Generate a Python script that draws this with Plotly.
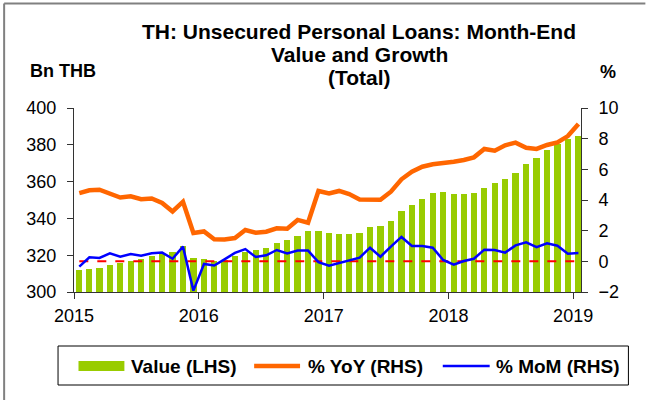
import plotly.graph_objects as go

months = [f"{y}-{m:02d}" for y in range(2015, 2019) for m in range(1, 13)] + ["2019-01"]

value_bn_thb = [312.0, 312.5, 313.2, 314.8, 315.7, 317.1, 318.0, 319.7, 320.7, 321.7, 324.9, 318.5,
                317.8, 316.9, 317.2, 319.5, 321.9, 322.8, 324.1, 326.6, 328.3, 330.4, 333.0, 333.0,
                332.0, 331.3, 331.3, 332.1, 335.2, 335.9, 338.8, 344.2, 347.3, 350.7, 353.8, 354.2,
                353.2, 353.1, 353.6, 356.5, 359.1, 361.2, 364.9, 369.6, 372.8, 377.2, 380.6, 383.0,
                385.0]

yoy_pct = [4.45, 4.63, 4.67, 4.43, 4.16, 4.24, 4.05, 4.10, 3.81, 3.25, 3.89, 1.85,
           1.95, 1.44, 1.42, 1.52, 2.04, 1.87, 1.93, 2.15, 2.13, 2.70, 2.52, 4.59,
           4.43, 4.59, 4.39, 4.04, 4.06, 4.02, 4.54, 5.35, 5.85, 6.17, 6.33, 6.39,
           6.50, 6.61, 6.78, 7.33, 7.22, 7.57, 7.74, 7.41, 7.33, 7.59, 7.76, 8.17,
           8.96]

mom_pct = [-0.35, 0.26, 0.22, 0.52, 0.30, 0.48, 0.37, 0.52, 0.57, 0.17, 0.96, -1.91,
           -0.17, -0.27, 0.13, 0.55, 0.80, 0.28, 0.39, 0.74, 0.52, 0.70, 0.70, -0.05,
           -0.29, -0.13, 0.04, 0.24, 0.89, 0.30, 0.96, 1.59, 1.00, 1.00, 0.89, 0.09,
           -0.22, 0.02, 0.17, 0.76, 0.74, 0.57, 1.04, 1.24, 0.93, 1.17, 1.02, 0.50,
           0.54]

zero_line = [0.0] * len(months)

year_ticks = ["2015-01-01", "2016-01-01", "2017-01-01", "2018-01-01", "2019-01-01"]
year_labels = ["2015", "2016", "2017", "2018", "2019"]
left_ticks = [300, 320, 340, 360, 380, 400]
right_ticks = [-2, 0, 2, 4, 6, 8, 10]

FONT = "Liberation Sans"
W, H = 646, 400
L, R, T, B = 73.5, 581.5, 108, 292


def px(x):
    return (x - L) / (R - L)


def py(y):
    return (B - y) / (B - T)


fig = go.Figure()

fig.add_trace(go.Bar(
    x=months, y=value_bn_thb, xperiod="M1", xperiodalignment="middle",
    width=0.6 * 30.44 * 86400000, marker=dict(color="#99CC00", line=dict(width=0)),
    name="Value (LHS)", showlegend=False))

fig.add_trace(go.Scatter(
    x=months, y=zero_line, xperiod="M1", xperiodalignment="middle", yaxis="y2",
    mode="lines", line=dict(color="#FF0000", width=2, dash="dash"), showlegend=False))

fig.add_trace(go.Scatter(
    x=months, y=yoy_pct, xperiod="M1", xperiodalignment="middle", yaxis="y2",
    mode="lines", line=dict(color="#FF6600", width=4.5), name="% YoY (RHS)", showlegend=False))

fig.add_trace(go.Scatter(
    x=months, y=mom_pct, xperiod="M1", xperiodalignment="middle", yaxis="y2",
    mode="lines", line=dict(color="#0000FF", width=2.5), name="% MoM (RHS)", showlegend=False))

axis_common = dict(showgrid=False, zeroline=False, showline=True, linecolor="#333333",
                   linewidth=1, ticks="outside", ticklen=6, tickcolor="#333333",
                   tickfont=dict(family=FONT, size=18, color="#000000"))

fig.update_layout(
    width=W, height=H,
    margin=dict(l=L, r=W - R, t=T, b=H - B, pad=0),
    paper_bgcolor="white", plot_bgcolor="white",
    bargap=0,
    xaxis=dict(type="date", range=["2015-01-01", "2019-01-24"],
               tickvals=year_ticks, ticktext=year_labels,
               ticklabelstandoff=1, **axis_common),
    yaxis=dict(range=[300, 400], tickvals=left_ticks, ticklabelstandoff=7, **axis_common),
    yaxis2=dict(range=[-2, 10], tickvals=right_ticks, overlaying="y", side="right",
                ticklabelstandoff=7, **axis_common),
)

# Title and axis titles
title_lines = ["TH: Unsecured Personal Loans: Month-End", "Value and Growth", "(Total)"]
title_y = [32, 55, 77]
for txt, yy in zip(title_lines, title_y):
    fig.add_annotation(text=f"<b>{txt}</b>", x=px(359.5), y=py(yy), xref="paper", yref="paper",
                       xanchor="center", yanchor="middle", showarrow=False,
                       font=dict(family=FONT, size=21, color="#000000"))
fig.add_annotation(text="<b>Bn THB</b>", x=px(27), y=py(71), xref="paper", yref="paper",
                   xanchor="left", yanchor="middle", showarrow=False,
                   font=dict(family=FONT, size=18, color="#000000"))
fig.add_annotation(text="<b>%</b>", x=px(608.5), y=py(72), xref="paper", yref="paper",
                   xanchor="center", yanchor="middle", showarrow=False,
                   font=dict(family=FONT, size=18, color="#000000"))

shapes = []
# outer frame (left and top edges visible)
shapes.append(dict(type="line", xref="paper", yref="paper", x0=px(3.5), y0=py(3.5), x1=px(3.5), y1=py(400),
                   line=dict(color="#808080", width=2)))
shapes.append(dict(type="line", xref="paper", yref="paper", x0=px(3.5), y0=py(3.5), x1=px(646), y1=py(3.5),
                   line=dict(color="#808080", width=2)))
# legend box
shapes.append(dict(type="rect", xref="paper", yref="paper", x0=px(57.5), y0=py(385), x1=px(629), y1=py(346),
                   line=dict(color="#000000", width=1), fillcolor="rgba(0,0,0,0)"))
# legend swatches
shapes.append(dict(type="rect", xref="paper", yref="paper", x0=px(78), y0=py(371), x1=px(124), y1=py(361),
                   line=dict(width=0), fillcolor="#99CC00"))
shapes.append(dict(type="line", xref="paper", yref="paper", x0=px(254), y0=py(366), x1=px(300), y1=py(366),
                   line=dict(color="#FF6600", width=4.5)))
shapes.append(dict(type="line", xref="paper", yref="paper", x0=px(443), y0=py(366), x1=px(490), y1=py(366),
                   line=dict(color="#0000FF", width=2.5)))
fig.update_layout(shapes=shapes)

for txt, xx in [("Value (LHS)", 129), ("% YoY (RHS)", 306), ("% MoM (RHS)", 494)]:
    fig.add_annotation(text=f"<b>{txt}</b>", x=px(xx), y=py(366), xref="paper", yref="paper",
                       xanchor="left", yanchor="middle", showarrow=False,
                       font=dict(family=FONT, size=19, color="#000000"))

fig.write_html("out.html")
